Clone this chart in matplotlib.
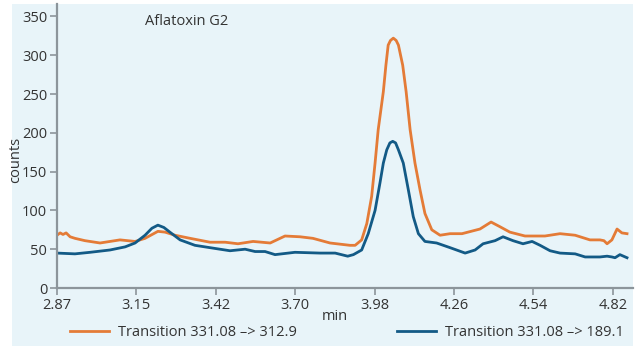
import matplotlib.pyplot as plt
from matplotlib.patches import Rectangle

# chromatogram traces (time in min, counts)
t_orange = [2.870, 2.881, 2.891, 2.902, 2.916, 2.933, 2.968, 3.021, 3.091, 3.144,
            3.179, 3.224, 3.249, 3.284, 3.337, 3.407, 3.460, 3.505, 3.558, 3.618,
            3.670, 3.723, 3.768, 3.828, 3.898, 3.916, 3.939, 3.957, 3.974, 3.986,
            3.997, 4.015, 4.024, 4.032, 4.040, 4.050, 4.060, 4.068, 4.083, 4.095,
            4.109, 4.126, 4.144, 4.161, 4.185, 4.214, 4.249, 4.291, 4.354, 4.393,
            4.424, 4.459, 4.512, 4.582, 4.635, 4.688, 4.740, 4.775, 4.789, 4.800,
            4.817, 4.835, 4.852, 4.870]
v_orange = [68, 71, 69, 71, 66, 64, 61, 58, 62, 60,
            64, 73, 72, 68, 64, 59, 59, 57, 60, 58,
            67, 66, 64, 58, 55, 55, 62, 83, 118, 161,
            204, 253, 287, 313, 319, 322, 319, 313, 287, 253,
            204, 161, 126, 96, 75, 68, 70, 70, 76, 85,
            79, 72, 67, 67, 70, 68, 62, 62, 61, 57,
            62, 76, 71, 70]

t_blue = [2.870, 2.933, 2.986, 3.056, 3.109, 3.144, 3.179, 3.203, 3.224, 3.245,
          3.266, 3.302, 3.354, 3.424, 3.477, 3.530, 3.565, 3.600, 3.635, 3.705,
          3.793, 3.846, 3.890, 3.910, 3.939, 3.962, 3.986, 4.003, 4.015, 4.027,
          4.038, 4.048, 4.058, 4.068, 4.085, 4.103, 4.120, 4.138, 4.161, 4.202,
          4.249, 4.302, 4.337, 4.365, 4.407, 4.435, 4.470, 4.505, 4.537, 4.565,
          4.600, 4.635, 4.688, 4.723, 4.775, 4.800, 4.817, 4.828, 4.845, 4.870]
v_blue = [45, 44, 46, 49, 53, 58, 68, 77, 81, 78,
          72, 62, 55, 51, 48, 50, 47, 47, 43, 46,
          45, 45, 41, 43, 49, 70, 100, 135, 161, 178,
          187, 189, 187, 178, 161, 126, 92, 70, 60, 58,
          52, 45, 49, 57, 61, 66, 61, 57, 60, 55,
          48, 45, 44, 40, 40, 41, 40, 39, 43, 39]

x_ticklabels = ["2.87", "3.15", "3.42", "3.70", "3.98", "4.26", "4.54", "4.82"]
y_ticks = [0, 50, 100, 150, 200, 250, 300, 350]

bg = "#e8f4f9"
orange = "#e47b37"
blue = "#135a86"
axis_col = "#8c959b"
text_col = "#333333"
fs = 10.5

plt.rcParams["font.family"] = ["Open Sans", "DejaVu Sans"]

fig = plt.figure(figsize=(6.37, 3.46), dpi=100)
fig.patch.set_facecolor("white")
fig.add_artist(Rectangle((12 / 637, 0), 621 / 637, 342 / 346,
                         transform=fig.transFigure, facecolor=bg,
                         edgecolor="none", zorder=-5))

ax = fig.add_axes([57 / 637, 1 - 288 / 346, 576 / 637, 284 / 346])
ax.set_facecolor(bg)

l1, = ax.plot(t_orange, v_orange, color=orange, lw=2.0, solid_joinstyle="round")
l2, = ax.plot(t_blue, v_blue, color=blue, lw=2.0, solid_joinstyle="round")

ax.set_xlim(2.87, 4.891)
ax.set_ylim(0, 366)
# labels are rounded, ticks are evenly spaced
ax.set_xticks([2.87 + i * (4.82 - 2.87) / 7 for i in range(8)])
ax.set_xticklabels(x_ticklabels)
ax.set_yticks(y_ticks)

for s in ["top", "right"]:
    ax.spines[s].set_visible(False)
for s in ["left", "bottom"]:
    ax.spines[s].set_color(axis_col)
    ax.spines[s].set_linewidth(1.6)
ax.tick_params(colors=axis_col, labelcolor=text_col, labelsize=fs,
               length=5, width=1.2, pad=2)

ax.text(0.153, 0.94, "Aflatoxin G2", transform=ax.transAxes,
        fontsize=fs, color=text_col, va="center")
fig.text(16 / 637, 1 - 160 / 346, "counts", rotation=90, fontsize=fs,
         color=text_col, ha="center", va="center")
fig.text(335 / 637, 1 - 316 / 346, "min", fontsize=fs, color=text_col,
         ha="center", va="center")

leg_kw = dict(frameon=False, fontsize=fs, handlelength=2.7, handletextpad=0.6,
              borderaxespad=0, borderpad=0)
lg1 = fig.legend([l1], ["Transition 331.08 \u2013> 312.9"],
                 loc="center left", bbox_to_anchor=(70 / 637, 1 - 333 / 346), **leg_kw)
lg2 = fig.legend([l2], ["Transition 331.08 \u2013> 189.1"],
                 loc="center left", bbox_to_anchor=(397 / 637, 1 - 333 / 346), **leg_kw)
for lg in (lg1, lg2):
    for txt in lg.get_texts():
        txt.set_color(text_col)

fig.savefig("out.png", dpi=100, facecolor=fig.get_facecolor())
